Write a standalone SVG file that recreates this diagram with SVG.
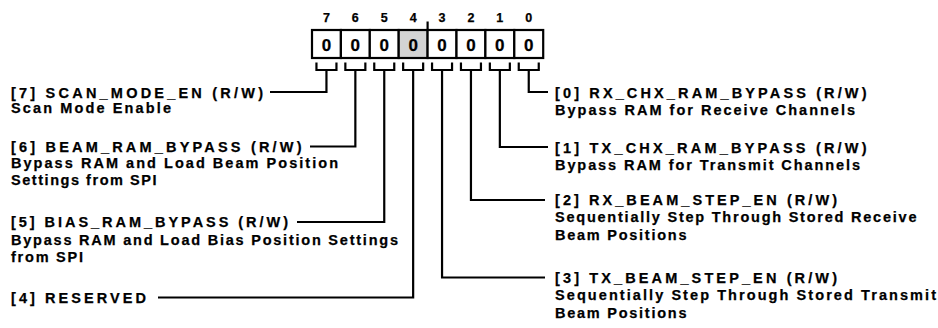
<svg xmlns="http://www.w3.org/2000/svg" width="938" height="328" viewBox="0 0 938 328">
<style>
text{font-family:"Liberation Sans",Arial,sans-serif;font-weight:bold;fill:#000;stroke:#000;stroke-width:0.25}
.t{font-size:14.5px}
.bit{font-size:12.5px;text-anchor:middle}
.val{font-size:17px;text-anchor:middle}
.cell{fill:#fff;stroke:#000;stroke-width:2.2}
.sh{fill:#d3d3d3}
.ln{fill:none;stroke:#000;stroke-width:2.2}
</style>
<rect width="938" height="328" fill="#fff"/>
<g id="register">
<rect class="cell" x="312" y="30" width="28.9" height="28"/>
<rect class="cell" x="340.9" y="30" width="28.9" height="28"/>
<rect class="cell" x="369.8" y="30" width="28.9" height="28"/>
<rect class="cell sh" x="398.7" y="30" width="28.9" height="28"/>
<rect class="cell" x="427.6" y="30" width="28.9" height="28"/>
<rect class="cell" x="456.5" y="30" width="28.9" height="28"/>
<rect class="cell" x="485.4" y="30" width="28.9" height="28"/>
<rect class="cell" x="514.3" y="30" width="28.9" height="28"/>
<text class="val" x="326.45" y="50.5">0</text>
<text class="val" x="355.35" y="50.5">0</text>
<text class="val" x="384.25" y="50.5">0</text>
<text class="val" x="413.15" y="50.5">0</text>
<text class="val" x="442.05" y="50.5">0</text>
<text class="val" x="470.95" y="50.5">0</text>
<text class="val" x="499.85" y="50.5">0</text>
<text class="val" x="528.75" y="50.5">0</text>
<text class="bit" x="326.45" y="22">7</text>
<text class="bit" x="355.35" y="22">6</text>
<text class="bit" x="384.25" y="22">5</text>
<text class="bit" x="413.15" y="22">4</text>
<text class="bit" x="442.05" y="22">3</text>
<text class="bit" x="470.95" y="22">2</text>
<text class="bit" x="499.85" y="22">1</text>
<text class="bit" x="528.75" y="22">0</text>
<line class="ln" x1="427.6" y1="21.5" x2="427.6" y2="30"/>
</g>
<g id="connectors">
<path class="ln" d="M316.45 62.5V70H336.45V62.5M345.35 62.5V70H365.35V62.5M374.25 62.5V70H394.25V62.5M403.15 62.5V70H423.15V62.5M432.05 62.5V70H452.05V62.5M460.95 62.5V70H480.95V62.5M489.85 62.5V70H509.85V62.5M518.75 62.5V70H538.75V62.5"/>
<path class="ln" d="M326.45 70V92H270"/>
<path class="ln" d="M355.35 70V146.5H310"/>
<path class="ln" d="M384.25 70V222H297"/>
<path class="ln" d="M413.15 70V297.5H158"/>
<path class="ln" d="M442.05 70V277.5H545"/>
<path class="ln" d="M470.95 70V200H545"/>
<path class="ln" d="M499.85 70V147H548"/>
<path class="ln" d="M528.75 70V92H548"/>
</g>
<g id="bit7">
<text class="t" x="11" y="97.5" textLength="252" lengthAdjust="spacing">[7] SCAN_MODE_EN (R/W)</text>
<text class="t" x="11" y="113" textLength="160" lengthAdjust="spacing">Scan Mode Enable</text>
</g>
<g id="bit6">
<text class="t" x="11" y="152" textLength="290.5" lengthAdjust="spacing">[6] BEAM_RAM_BYPASS (R/W)</text>
<text class="t" x="11" y="168" textLength="327" lengthAdjust="spacing">Bypass RAM and Load Beam Position</text>
<text class="t" x="11" y="184.5" textLength="145.5" lengthAdjust="spacing">Settings from SPI</text>
</g>
<g id="bit5">
<text class="t" x="11" y="227" textLength="277" lengthAdjust="spacing">[5] BIAS_RAM_BYPASS (R/W)</text>
<text class="t" x="11" y="244.5" textLength="387" lengthAdjust="spacing">Bypass RAM and Load Bias Position Settings</text>
<text class="t" x="11" y="261.5" textLength="72" lengthAdjust="spacing">from SPI</text>
</g>
<g id="bit4">
<text class="t" x="11" y="302.5" textLength="135" lengthAdjust="spacing">[4] RESERVED</text>
</g>
<g id="bit0">
<text class="t" x="555" y="98" textLength="311.5" lengthAdjust="spacing">[0] RX_CHX_RAM_BYPASS (R/W)</text>
<text class="t" x="555" y="115" textLength="300" lengthAdjust="spacing">Bypass RAM for Receive Channels</text>
</g>
<g id="bit1">
<text class="t" x="555" y="153" textLength="311.5" lengthAdjust="spacing">[1] TX_CHX_RAM_BYPASS (R/W)</text>
<text class="t" x="555" y="170" textLength="305" lengthAdjust="spacing">Bypass RAM for Transmit Channels</text>
</g>
<g id="bit2">
<text class="t" x="555" y="205" textLength="282" lengthAdjust="spacing">[2] RX_BEAM_STEP_EN (R/W)</text>
<text class="t" x="555" y="222" textLength="361.5" lengthAdjust="spacing">Sequentially Step Through Stored Receive</text>
<text class="t" x="555" y="240" textLength="131.5" lengthAdjust="spacing">Beam Positions</text>
</g>
<g id="bit3">
<text class="t" x="555" y="283" textLength="282" lengthAdjust="spacing">[3] TX_BEAM_STEP_EN (R/W)</text>
<text class="t" x="555" y="300" textLength="381" lengthAdjust="spacing">Sequentially Step Through Stored Transmit</text>
<text class="t" x="555" y="317.5" textLength="131.5" lengthAdjust="spacing">Beam Positions</text>
</g>
</svg>
